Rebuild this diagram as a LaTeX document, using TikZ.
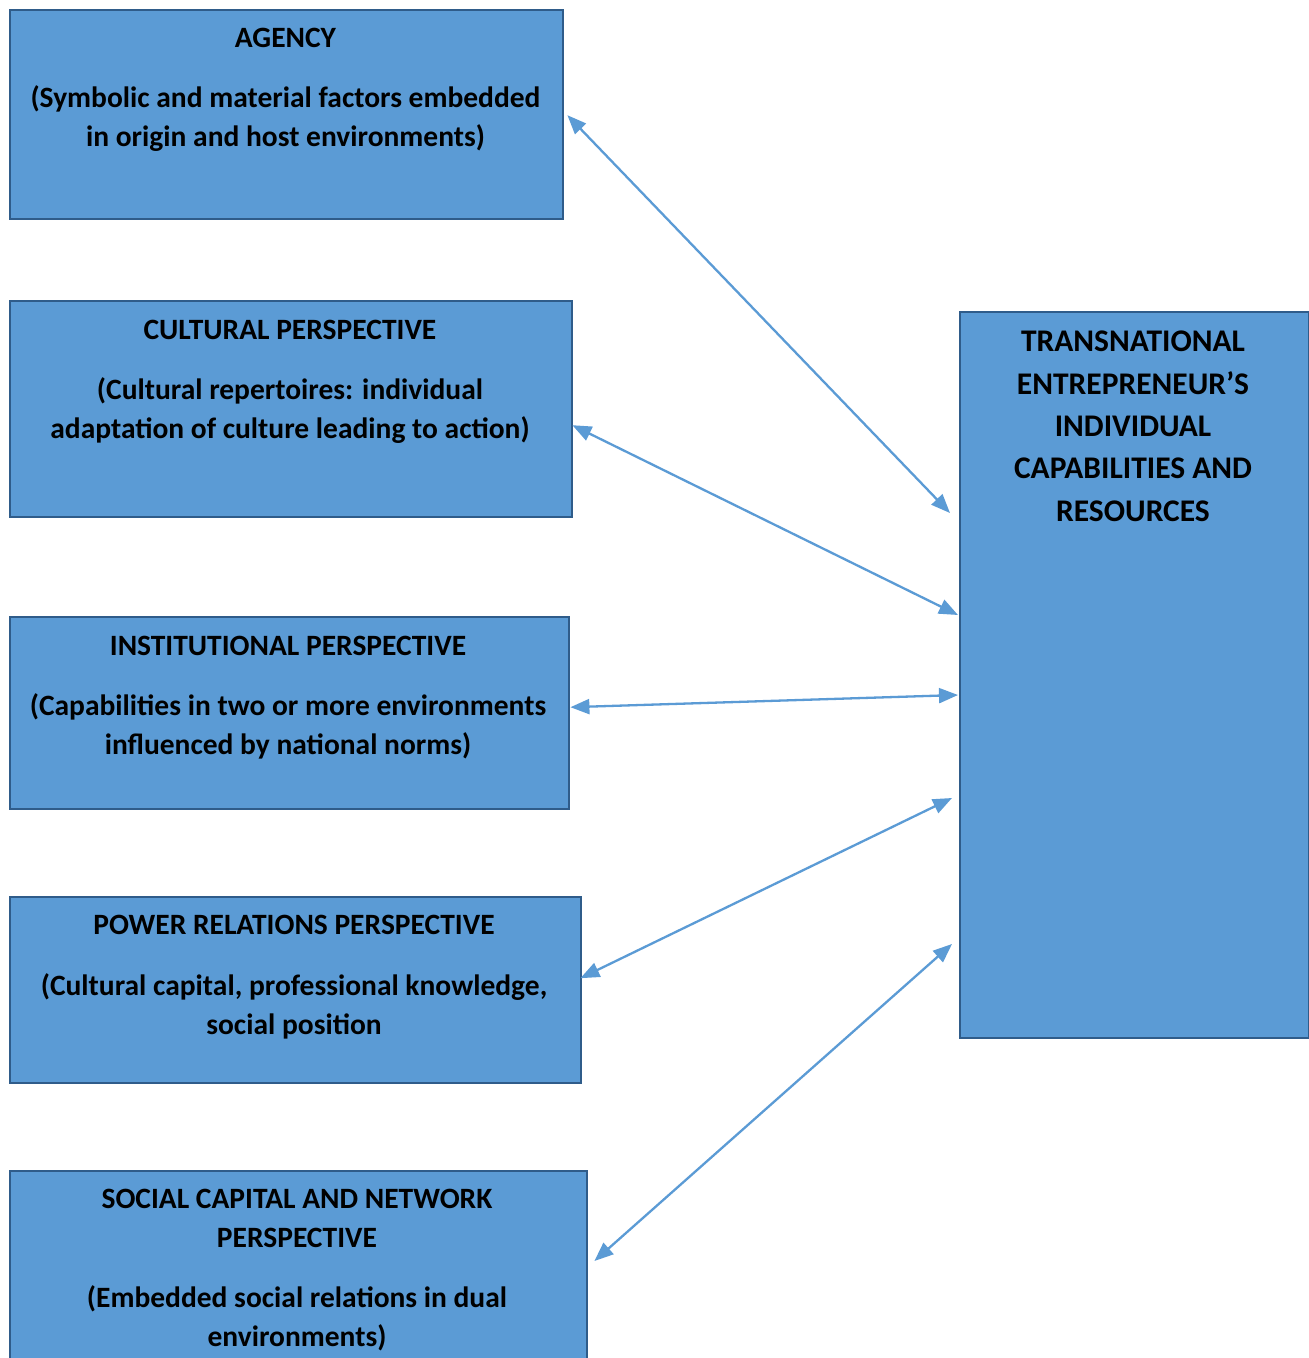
\documentclass[tikz,border=0pt]{standalone}
\usepackage{fontspec}
\setmainfont{Carlito}
\usetikzlibrary{arrows.meta,calc}
\definecolor{boxfill}{HTML}{5B9BD5}
\definecolor{boxline}{HTML}{2F5C8A}
\definecolor{arrowcol}{HTML}{5B9BD5}
\tikzset{
  panel/.style={draw=boxline, line width=2.4pt, fill=boxfill, rectangle, inner sep=0pt, anchor=north west},
  txt/.style={font=\fontsize{29.5}{39}\selectfont\bfseries, align=center, anchor=base, inner sep=0pt, text=black},
  bigtxt/.style={font=\fontsize{31.5}{42.3}\selectfont\bfseries, align=center, anchor=base, inner sep=0pt, text=black},
  link/.style={draw=arrowcol, line width=2.3pt, {Triangle[length=19pt,width=15pt]}-{Triangle[length=19pt,width=15pt]}}
}
\begin{document}
\begin{tikzpicture}[x=1pt,y=-1pt]
\clip (0,0) rectangle (1309,1358);
\fill[white] (0,0) rectangle (1309,1358);
% boxes
\node[panel, minimum width=553pt, minimum height=209pt] (agency) at (9,9) {};
\node[panel, minimum width=562pt, minimum height=216pt] (cult) at (9,300) {};
\node[panel, minimum width=559pt, minimum height=192pt] (inst) at (9,616) {};
\node[panel, minimum width=571pt, minimum height=186pt] (power) at (9,896) {};
\node[panel, minimum width=577pt, minimum height=220pt] (social) at (9,1170) {};
\node[panel, minimum width=349pt, minimum height=726pt] (trans) at (959,311) {};
% texts (base = baseline of last line)
\node[txt] (agencyT) at (285.5,47.5) {AGENCY};
\node[txt] (agencyS) at (285.5,146.5) {(Symbolic and material factors embedded\\in origin and host environments)};
\node[txt] (cultT) at (290,339.5) {CULTURAL PERSPECTIVE};
\node[txt] (cultS) at (290,438.5) {(Cultural repertoires: individual\\adaptation of culture leading to action)};
\node[txt] (instT) at (288,655.5) {INSTITUTIONAL PERSPECTIVE};
\node[txt] (instS) at (288,754.5) {(Capabilities in two or more environments\\influenced by national norms)};
\node[txt] (powerT) at (294,934.5) {POWER RELATIONS PERSPECTIVE};
\node[txt] (powerS) at (294,1034.5) {(Cultural capital, professional knowledge,\\social position};
\node[txt] (socialT) at (297,1247.5) {SOCIAL CAPITAL AND NETWORK\\PERSPECTIVE};
\node[txt] (socialS) at (297,1346.5) {(Embedded social relations in dual\\environments)};
\node[bigtxt] (transT) at (1133,521) {TRANSNATIONAL\\ENTREPRENEUR’S\\INDIVIDUAL\\CAPABILITIES AND\\RESOURCES};
% connector ends
\coordinate (a1) at ($(agency.east)+(3,0.5)$);
\coordinate (a2) at ($(trans.north west)+(-9,202)$);
\coordinate (c1) at ($(cult.east)+(-1,16)$);
\coordinate (c2) at ($(trans.north west)+(-1,304)$);
\coordinate (i1) at ($(inst.east)+(0,-6)$);
\coordinate (i2) at ($(trans.north west)+(-1,384)$);
\coordinate (p1) at ($(power.east)+(-2,-12)$);
\coordinate (p2) at ($(trans.north west)+(-7,487)$);
\coordinate (s1) at ($(social.north east)+(6,91)$);
\coordinate (s2) at ($(trans.north west)+(-7,633)$);
\draw[link] (a1) -- (a2);
\draw[link] (c1) -- (c2);
\draw[link] (i1) -- (i2);
\draw[link] (p1) -- (p2);
\draw[link] (s1) -- (s2);
\end{tikzpicture}
\end{document}
